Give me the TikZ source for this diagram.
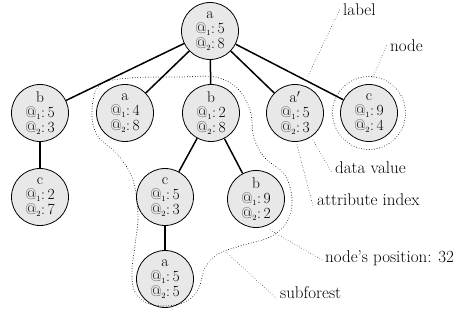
\documentclass[tikz,border=0pt]{standalone}
\newcommand\atsub[2]{@$_{\scriptscriptstyle #1}$:\,#2}
\begin{document}
\begin{tikzpicture}[x=1pt,y=-1pt,
  tn/.style={circle,draw,line width=0.8pt,fill=black!9,minimum size=57pt,inner sep=0pt,align=center,font=\fontsize{15.5}{15}\selectfont},
  edge/.style={line width=1.5pt},
  dots/.style={line width=0.9pt,dash pattern=on 0.01pt off 2.6pt,line cap=round},
  lbl/.style={font=\fontsize{17}{19}\selectfont,anchor=west,inner sep=0pt}]
\useasboundingbox (0,0) rectangle (460,320);
% tree nodes
\node[tn] (r)  at (210,31)  {a\\\atsub{1}{5}\\\atsub{2}{8}};
\node[tn] (b1) at (40,113)  {b\\\atsub{1}{5}\\\atsub{2}{3}};
\node[tn] (a1) at (125,113) {a\\\atsub{1}{4}\\\atsub{2}{8}};
\node[tn] (b2) at (211,113) {b\\\atsub{1}{2}\\\atsub{2}{8}};
\node[tn] (a2) at (295,113) {a$'$\\\atsub{1}{5}\\\atsub{2}{3}};
\node[tn] (c1) at (369,113) {c\\\atsub{1}{9}\\\atsub{2}{4}};
\node[tn] (c2) at (40,197)  {c\\\atsub{1}{2}\\\atsub{2}{7}};
\node[tn] (c3) at (165,197) {c\\\atsub{1}{5}\\\atsub{2}{3}};
\node[tn] (b3) at (256,199) {b\\\atsub{1}{9}\\\atsub{2}{2}};
\node[tn] (a3) at (165,279) {a\\\atsub{1}{5}\\\atsub{2}{5}};
% edges
\draw[edge] (r) -- (b1);
\draw[edge] (r) -- (a1);
\draw[edge] (r) -- (b2);
\draw[edge] (r) -- (a2);
\draw[edge] (r) -- (c1);
\draw[edge] (b1) -- (c2);
\draw[edge] (b2) -- (c3);
\draw[edge] (b2) -- (b3);
\draw[edge] (c3) -- (a3);
% node outline
\node[circle,dots,draw,minimum size=73pt,inner sep=0pt] (nodering) at (369,113) {};
% subforest outline
\draw[dots] plot[smooth cycle,tension=0.6] coordinates {
  (100,85) (130,78) (180,77) (215,77) (237,88) (250,110) (254,138) (265,158)
  (285,175) (292,200) (287,222) (270,237) (240,246) (218,254) (205,268)
  (198,290) (185,302) (163,306) (145,302) (134,290) (132,270) (135,245)
  (138,215) (133,180) (118,155) (97,135) (92,110)};
% labels
\node[lbl] (tlabel) at (343,10)  {label};
\node[lbl] (tnode)  at (390,46)  {node};
\node[lbl] (tdata)  at (335,168) {data value};
\node[lbl] (tattr)  at (317,200) {attribute index};
\node[lbl] (tpos)   at (325,258) {node's position: 32};
\node[lbl] (tsub)   at (280,293) {subforest};
% callout start points
\coordinate (plabel) at (308,76);
\coordinate (pnode)  at (373,77);
\coordinate (pdata)  at (313,140);
\coordinate (pattr)  at (297,145);
\coordinate (ppos)   at (270,230);
\coordinate (psub)   at (226,252);
\draw[dots,line width=0.7pt] (plabel) -- ([xshift=-3pt,yshift=1pt]tlabel.west);
\draw[dots,line width=0.7pt] (pnode) -- ([xshift=-3pt,yshift=2pt]tnode.west);
\draw[dots,line width=0.7pt] (pdata) -- ([xshift=-3pt,yshift=-5pt]tdata.west);
\draw[dots,line width=0.7pt] (pattr) -- ([xshift=-4pt,yshift=-6pt]tattr.west);
\draw[dots,line width=0.7pt] (ppos) -- ([xshift=-3pt,yshift=-2pt]tpos.west);
\draw[dots,line width=0.7pt] (psub) -- ([xshift=-4pt,yshift=-5pt]tsub.west);
\end{tikzpicture}
\end{document}
